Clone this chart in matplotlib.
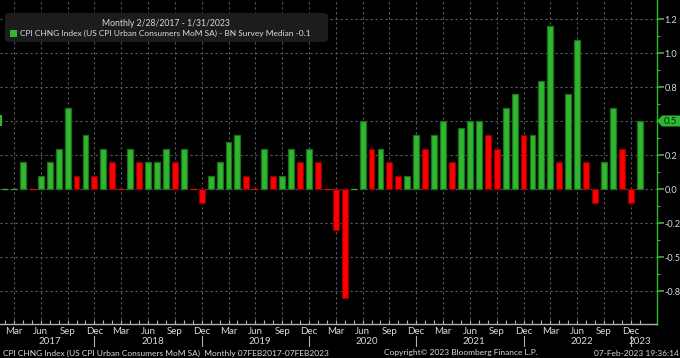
import numpy as np
import pandas as pd
import matplotlib
matplotlib.use('Agg')
import matplotlib.pyplot as plt
import matplotlib.transforms as mtransforms
from matplotlib.patches import Polygon, Rectangle, FancyBboxPatch

# CPI MoM minus survey median, monthly Feb 2017 .. Jan 2023
months = pd.period_range('2017-02', '2023-01', freq='M')
values = [
    0.0, 0.0, 0.2, 0.0, 0.1, 0.2, 0.3, 0.6, 0.1, 0.4, 0.1, 0.3,
    0.2, 0.0, 0.3, 0.2, 0.2, 0.2, 0.3, 0.2, 0.3, 0.0, -0.1, 0.1,
    0.2, 0.35, 0.4, 0.1, 0.0, 0.3, 0.1, 0.1, 0.3, 0.2, 0.3, 0.2,
    0.0, -0.3, -0.8, 0.0, 0.5, 0.3, 0.3, 0.2, 0.1, 0.1, 0.4, 0.3,
    0.4, 0.5, 0.2, 0.45, 0.5, 0.5, 0.4, 0.3, 0.6, 0.7, 0.4, 0.4,
    0.8, 1.2, 0.2, 0.7, 1.1, 0.2, -0.1, 0.2, 0.6, 0.3, -0.1, 0.5,
]
last_value = 0.5
y_ticks = [-0.75, -0.5, -0.25, 0.0, 0.25, 0.5, 0.75, 1.0, 1.25]
quarter_months = [3, 6, 9, 12]

title_text = 'Monthly 2/28/2017 - 1/31/2023'
legend_text = 'CPI CHNG Index (US CPI Urban Consumers MoM SA) - BN Survey Median -0.1'
footer_left = 'CPI CHNG Index (US CPI Urban Consumers MoM SA)  Monthly 07FEB2017-07FEB2023'
footer_mid = 'Copyright\u00a9 2023 Bloomberg Finance L.P.'
footer_right = '07-Feb-2023 19:36:14'

GREEN = '#2fb82f'
GREEN_EDGE = '#1d6e1d'
RED = '#ff0000'
RED_EDGE = '#8a0000'
TXT = '#d9d9d9'
GRID = '#5c5c5c'
FS = 7.0      # axis labels
FS_SMALL = 6.0  # legend / footer

plt.rcParams['font.family'] = ['Lato', 'DejaVu Sans']

W, H = 680, 358
def fx(px):
    return px / W
def fy(py):
    return 1 - py / H

fig = plt.figure(figsize=(6.8, 3.58), dpi=100, facecolor='black')
ax = fig.add_axes([0, fy(324), fx(657), fy(0) - fy(324)])
ax.set_facecolor('black')

vals = np.array(values)
x = np.arange(len(vals))
prev = np.r_[vals[0], vals[:-1]]
up = vals >= prev - 1e-9
fill = [GREEN if u else RED for u in up]
edge = [(GREEN_EDGE if u else RED_EDGE) if v != 0 else c
        for u, v, c in zip(up, vals, fill)]
ax.bar(x, vals, width=0.66, color=fill, edgecolor=edge, linewidth=0.9, zorder=3)

# axes styling
for s in ['left', 'top']:
    ax.spines[s].set_visible(False)
ax.spines['right'].set_color(GREEN)
ax.spines['right'].set_linewidth(1.0)
ax.spines['bottom'].set_color('#b0b0b0')
ax.spines['bottom'].set_linewidth(1.0)

ax.yaxis.tick_right()
ax.set_yticks(y_ticks)
ax.set_yticklabels(['' if v == last_value else '%.1f' % v for v in y_ticks])
ax.set_yticks(np.array(y_ticks[:-1]) + 0.125, minor=True)
ax.tick_params(axis='y', which='major', colors=GREEN, labelcolor=TXT,
               length=5, width=1.2, labelsize=FS - 0.4, pad=0.5)
ax.tick_params(axis='y', which='minor', colors=GREEN, length=2.5, width=0.8)

q_idx = [i for i, m in enumerate(months) if m.month in quarter_months]
ax.set_xticks(q_idx)
ax.set_xticklabels([months[i].strftime('%b') for i in q_idx])
ax.set_xticks(x, minor=True)
ax.tick_params(axis='x', which='both', direction='in', length=3, width=0.8,
               colors='#b0b0b0', labelcolor=TXT, labelsize=FS, pad=2)

ax.grid(True, which='major', color=GRID, linestyle=(0, (2, 2.5)), linewidth=0.8, zorder=0)
ax.set_axisbelow(True)

# year labels and separators under the axis
blend = mtransforms.blended_transform_factory(ax.transData, fig.transFigure)
years = sorted(set(m.year for m in months))
for yr in years:
    idx = [i for i, m in enumerate(months) if m.year == yr]
    ax.text(np.mean(idx), fy(341.5), str(yr), transform=blend, ha='center', va='center',
            fontsize=FS, color=TXT, clip_on=False)
for i, m in enumerate(months):
    if m.month == 12:
        ax.plot([i, i], [fy(336), fy(346)], transform=blend, color='#b0b0b0',
                lw=0.8, clip_on=False)

ax.set_xlim(-5 / 8.94, (657 - 5) / 8.94)
ax.set_ylim(-(324 - 189.3) / 136, 189.3 / 136)

# legend box
fig.add_artist(FancyBboxPatch((fx(5), fy(42)), fx(323), (42 - 13) / H,
                              boxstyle='round,pad=0,rounding_size=0.008',
                              transform=fig.transFigure, facecolor='#1c1c1c',
                              edgecolor='none', zorder=4))
fig.text(fx(166), fy(23.5), title_text, ha='center', va='center', fontsize=FS_SMALL + 0.2,
         color=TXT, zorder=5)
fig.add_artist(Rectangle((fx(10), fy(37)), fx(7), 7 / H, transform=fig.transFigure,
                         facecolor=GREEN, edgecolor='none', zorder=5))
fig.text(fx(20), fy(33.5), legend_text, ha='left', va='center', fontsize=FS_SMALL,
         color=TXT, zorder=5)

# last value tags
tag = [(657, 121), (662, 115.5), (680, 115.5), (680, 126.5), (662, 126.5)]
fig.add_artist(Polygon([(fx(a), fy(b)) for a, b in tag], closed=True,
                       transform=fig.transFigure, facecolor=GREEN, edgecolor='none', zorder=5))
fig.text(fx(670.5), fy(121), '%.1f' % last_value, ha='center', va='center', fontsize=FS,
         color='#0c2a0c', zorder=6)
fig.add_artist(Rectangle((fx(0), fy(126)), fx(2.2), 11 / H, transform=fig.transFigure,
                         facecolor=GREEN, edgecolor='none', zorder=5))

# footer
fig.text(fx(3), fy(353), footer_left, ha='left', va='center', fontsize=FS_SMALL, color=TXT)
fig.text(fx(461), fy(353), footer_mid, ha='center', va='center', fontsize=FS_SMALL, color=TXT)
fig.text(fx(679), fy(353), footer_right, ha='right', va='center', fontsize=FS_SMALL, color=TXT)

fig.savefig('out.png', dpi=100, facecolor='black')
